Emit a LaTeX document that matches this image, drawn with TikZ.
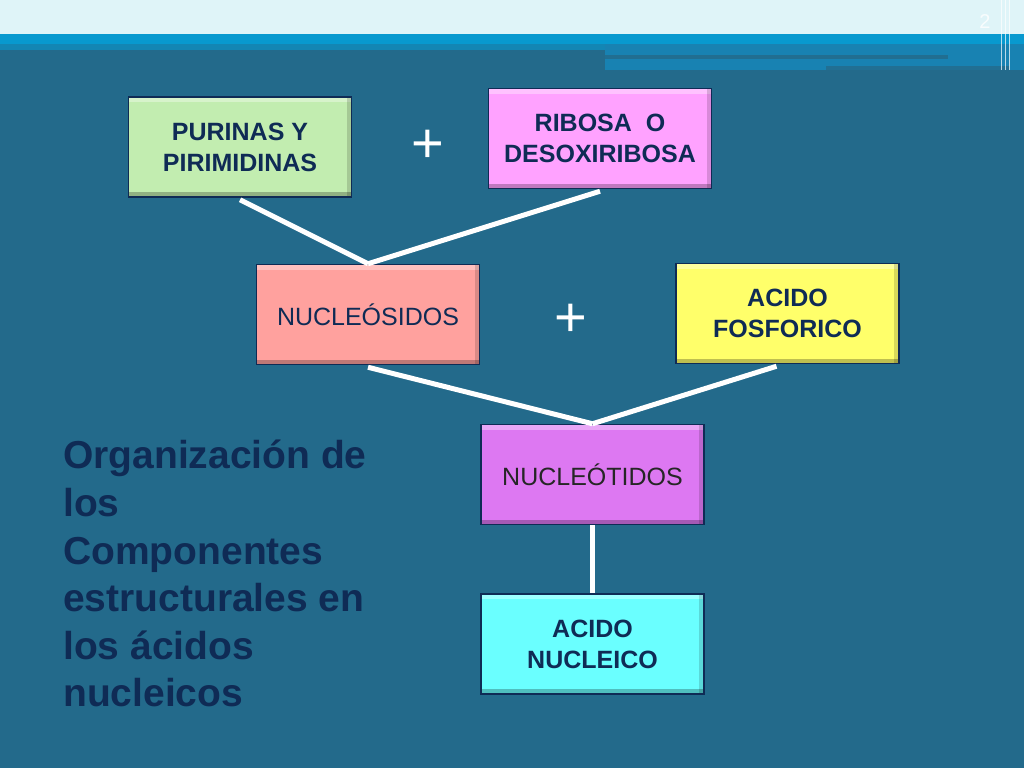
\documentclass[tikz,border=0pt]{standalone}
\usepackage{fontspec}
\setmainfont{Liberation Sans}
\usepackage{xcolor}
\usepackage{tikz}

\definecolor{fondo}{HTML}{236A8B}
\definecolor{cielo}{HTML}{DFF4F8}
\definecolor{franja}{HTML}{0899CF}
\definecolor{franjab}{HTML}{1882B2}
\definecolor{marino}{HTML}{0F2B55}
\definecolor{verde}{HTML}{C2EDB0}
\definecolor{rosa}{HTML}{FFA2FF}
\definecolor{salmon}{HTML}{FFA19E}
\definecolor{amarillo}{HTML}{FFFF6A}
\definecolor{violeta}{HTML}{DD78F2}
\definecolor{celeste}{HTML}{6AFFFF}

\begin{document}
\begin{tikzpicture}[x=1pt,y=-1pt,
		caja/.style={draw=marino,line width=1.5pt,minimum width=223pt,minimum height=100pt,
			align=center,inner sep=0pt,font=\fontsize{25}{31}\selectfont,
			path picture={
				\fill[white,opacity=0.35] (path picture bounding box.north west) rectangle ([yshift=-5pt]path picture bounding box.north east);
				\fill[black,opacity=0.25] ([yshift=5pt]path picture bounding box.south west) rectangle (path picture bounding box.south east);
				\fill[black,opacity=0.15] ([xshift=-5pt]path picture bounding box.south east) rectangle (path picture bounding box.north east);
			}},
		negrita/.style={text=marino,font=\bfseries\fontsize{25}{31}\selectfont},
		linea/.style={white,line width=5pt},
		mas/.style={white,font=\fontsize{56}{56}\selectfont,inner sep=0pt}]
			% fondo y cabecera
			\useasboundingbox (0,0) rectangle (1024,768);
			\fill[fondo] (0,0) rectangle (1024,768);
			\fill[cielo] (0,0) rectangle (1024,34);
			\fill[franja] (0,34) rectangle (1024,44);
			\fill[franja!60!fondo] (0,44) rectangle (605,50);
			\fill[franjab] (605,44) rectangle (1024,70);
			\fill[fondo!85!franjab] (605,55) rectangle (948,59);
			\fill[fondo!80!franjab] (826,66) rectangle (1010,70);
			\foreach \x in {1001,1005,1009} \draw[white,opacity=0.7,line width=1pt] (\x,0) -- (\x,70);
			\node[text=white,opacity=0.8,font=\fontsize{20}{20}\selectfont] (pagina) at (985,22) {2};
			
			% cajas
			\node[caja,fill=verde,negrita] (purinas) at (240,147) {PURINAS Y\\PIRIMIDINAS};
			\node[caja,fill=rosa,negrita] (ribosa) at (600,138.5) {RIBOSA\ \ O\\DESOXIRIBOSA};
			\node[caja,fill=salmon,text=marino] (nucleosidos) at (368,314.5) {NUCLEÓSIDOS};
			\node[caja,fill=amarillo,negrita] (fosforico) at (787.5,313.5) {ACIDO\\FOSFORICO};
			\node[caja,fill=violeta,text=black!85] (nucleotidos) at (592.5,474.5) {NUCLEÓTIDOS};
			\node[caja,fill=celeste,negrita] (nucleico) at (592.5,644) {ACIDO\\NUCLEICO};
			
			\node[mas] (masA) at (428,146) {+};
			\node[mas] (masB) at (571,320) {+};
			
			% uniones
			\draw[linea] ([yshift=-2pt]purinas.south) -- (nucleosidos.north);
			\draw[linea] ([yshift=-2pt]ribosa.south) -- (nucleosidos.north);
			\draw[linea] ([yshift=-2pt]nucleosidos.south) -- (nucleotidos.north);
			\draw[linea] ([xshift=-11pt,yshift=-2pt]fosforico.south) -- (nucleotidos.north);
			\draw[linea] (nucleotidos.south) -- (nucleico.north);
			
			\node[anchor=north west,align=left,inner sep=0pt,text=marino,
				font=\bfseries\fontsize{39}{47.6}\selectfont] (titulo) at (63,440)
				{Organización de\\los\\Componentes\\estructurales en\\los ácidos\\nucleicos};
		\end{tikzpicture}
\end{document}
